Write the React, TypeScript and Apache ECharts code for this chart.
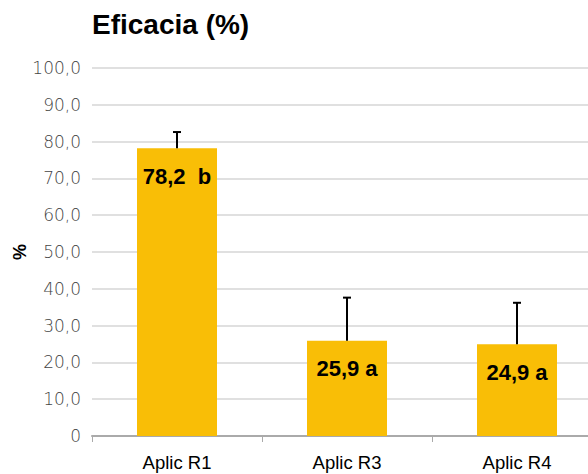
import React, { useEffect, useRef } from "react";
import * as echarts from "echarts";

const categories = ["Aplic R1", "Aplic R3", "Aplic R4"];
const values = [78.2, 25.9, 24.9];
const errorTops = [82.6, 37.6, 36.2];
const letters = ["b", "a", "a"];
const letterGaps = ["  ", " ", " "];

export default function App() {
  const ref = useRef<HTMLDivElement>(null);
  useEffect(() => {
    if (!ref.current) return;
    const chart = echarts.init(ref.current, null, { renderer: "svg" });
    chart.setOption({
      animation: false,
      title: {
        text: "Eficacia (%)",
        left: 87,
        top: 5,
        textStyle: { fontFamily: "Liberation Sans", fontWeight: "bold", fontSize: 28, color: "#000" },
      },
      grid: { left: 92, top: 68, width: 510, height: 368, outerBoundsMode: "none", containLabel: false },
      xAxis: {
        type: "category",
        data: categories,
        axisLine: { lineStyle: { color: "#aaa", width: 2 } },
        axisTick: { show: true, length: 6, lineStyle: { color: "#aaa" } },
        axisLabel: { color: "#000", fontSize: 18.5, fontFamily: "Liberation Sans", margin: 17 },
      },
      yAxis: {
        type: "value",
        min: 0,
        max: 100,
        interval: 10,
        name: "%",
        nameLocation: "middle",
        nameGap: 63,
        nameMoveOverlap: false,
        nameRotate: 90,
        nameTextStyle: { color: "#000", fontSize: 18, fontWeight: "bold", fontFamily: "Liberation Sans" },
        axisLabel: {
          color: "#444",
          fontSize: 17,
          fontWeight: 200,
          fontFamily: "DejaVu Sans",
          margin: 11,
          formatter: (v: number) => (v === 0 ? "0" : v.toFixed(1).replace(".", ",")),
        },
        splitLine: { lineStyle: { color: "#d6d6d6", width: 1.5 } },
        axisLine: { show: false },
        axisTick: { show: false },
      },
      series: [
        {
          type: "bar",
          data: values,
          barWidth: 80,
          itemStyle: { color: "#F9BE06" },
          label: {
            show: true,
            position: "insideTop",
            distance: 17,
            color: "#000",
            fontSize: 22,
            fontWeight: "bold",
            fontFamily: "Liberation Sans",
            formatter: (p: any) =>
              p.value.toFixed(1).replace(".", ",") + letterGaps[p.dataIndex] + letters[p.dataIndex],
          },
        },
        {
          type: "custom",
          data: categories.map((c, i) => [i, values[i], errorTops[i]]),
          z: 10,
          renderItem: (params: any, api: any) => {
            const base = api.coord([api.value(0), api.value(1)]);
            const top = api.coord([api.value(0), api.value(2)]);
            const x = base[0];
            return {
              type: "group",
              children: [
                { type: "line", shape: { x1: x, y1: base[1], x2: x, y2: top[1] }, style: { stroke: "#000", lineWidth: 2 } },
                { type: "line", shape: { x1: x - 4, y1: top[1], x2: x + 4, y2: top[1] }, style: { stroke: "#000", lineWidth: 2 } },
              ],
            };
          },
        },
      ],
    });
    return () => chart.dispose();
  }, []);
  return (
    <div style={{ position: "absolute", left: 0, top: 0, width: 588, height: 474, overflow: "hidden" }}>
      <div ref={ref} style={{ width: 602, height: 474 }} />
    </div>
  );
}
